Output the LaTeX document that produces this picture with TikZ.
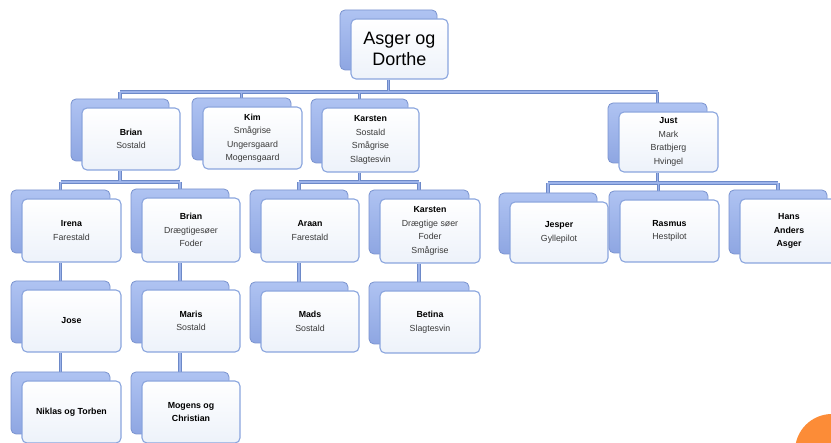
\documentclass[tikz,border=0pt]{standalone}
\usepackage{fontspec}
\setmainfont{Liberation Sans}
\usetikzlibrary{backgrounds}
\definecolor{backtop}{HTML}{AFC3F2}
\definecolor{backbot}{HTML}{8EA6E2}
\definecolor{backline}{HTML}{7A93CF}
\definecolor{frontline}{HTML}{8AA5DE}
\definecolor{frontbot}{HTML}{EDF2FA}
\definecolor{connout}{HTML}{6D89C8}
\definecolor{connin}{HTML}{9CB3EA}
\definecolor{subtext}{HTML}{3A3A3A}
\definecolor{dotorange}{HTML}{FC8C37}
\tikzset{
  backbox/.style={rectangle, rounded corners=5pt, draw=backline, line width=0.8pt,
    top color=backtop, bottom color=backbot, inner sep=0pt},
  frontbox/.style={rectangle, rounded corners=5pt, draw=frontline, line width=1.1pt,
    top color=white, bottom color=frontbot, inner sep=0pt, align=center,
    font=\fontsize{8.8}{13.5}\selectfont, text=subtext},
  rootfont/.style={font=\fontsize{18}{20.5}\selectfont, text=black},
  connouter/.style={draw=connout, line width=3.4pt},
  conninner/.style={draw=connin, line width=1.6pt}
}
% name, x1, y1, x2, y2, extra style, text
\newcommand\orgbox[7]{%
  \node[backbox, minimum width={#4-#2}, minimum height={#5-#3}]
    (#1back) at ({(#2+#4)/2-11},{(#3+#5)/2-9}) {};
  \node[frontbox, minimum width={#4-#2}, minimum height={#5-#3}, #6]
    (#1) at ({(#2+#4)/2},{(#3+#5)/2}) {#7};
}
\newcommand\nm[1]{\textcolor{black}{\textbf{#1}}}
% all connectors, drawn with the style given
\newcommand\connset[1]{%
  % root -> level 1
  \draw[#1] (rootback.south |- root.south) -- (rootback.south |- bar0);
  \draw[#1] (brianback.north |- bar0) -- (justback.north |- bar0);
  \foreach \c in {brian,kim,karsten,just}
    \draw[#1] (\c back.north |- bar0) -- (\c back.north);
  % Brian -> Irena, Brian
  \draw[#1] (brianback.south |- brian.south) -- (brianback.south |- bar1);
  \draw[#1] (irenaback.north |- bar1) -- (briantwoback.north |- bar1);
  \foreach \c in {irena,briantwo}
    \draw[#1] (\c back.north |- bar1) -- (\c back.north);
  % Karsten -> Araan, Karsten
  \draw[#1] (karstenback.south |- karsten.south) -- (karstenback.south |- bar2);
  \draw[#1] (araanback.north |- bar2) -- (karstentwoback.north |- bar2);
  \foreach \c in {araan,karstentwo}
    \draw[#1] (\c back.north |- bar2) -- (\c back.north);
  % Just -> Jesper, Rasmus, Hans
  \draw[#1] (justback.south |- just.south) -- (justback.south |- bar3);
  \draw[#1] (jesperback.north |- bar3) -- (hansback.north |- bar3);
  \foreach \c in {jesper,rasmus,hans}
    \draw[#1] (\c back.north |- bar3) -- (\c back.north);
  % single chains
  \draw[#1] (joseback.north |- irena.south) -- (joseback.north);
  \draw[#1] (niklasback.north |- jose.south) -- (niklasback.north);
  \draw[#1] (marisback.north |- briantwo.south) -- (marisback.north);
  \draw[#1] (mogensback.north |- maris.south) -- (mogensback.north);
  \draw[#1] (madsback.north |- araan.south) -- (madsback.north);
  \draw[#1] (betinaback.north |- karstentwo.south) -- (betinaback.north);
}
\begin{document}
\begin{tikzpicture}[x=1pt,y=-1pt]
\useasboundingbox (0,0) rectangle (831,443);
% nodes
\orgbox{root}{351}{19}{448}{79}{rootfont}{Asger og\\Dorthe}
\orgbox{brian}{82}{108}{180}{170}{}{\nm{Brian}\\Sostald}
\orgbox{kim}{203}{107}{302}{169}{}{\nm{Kim}\\Smågrise\\Ungersgaard\\Mogensgaard}
\orgbox{karsten}{322}{108}{419}{172}{}{\nm{Karsten}\\Sostald\\Smågrise\\Slagtesvin}
\orgbox{just}{619}{112}{718}{172}{}{\nm{Just}\\Mark\\Bratbjerg\\Hvingel}
\orgbox{irena}{22}{199}{121}{262}{}{\nm{Irena}\\Farestald}
\orgbox{briantwo}{142}{198}{240}{262}{}{\nm{Brian}\\Drægtigesøer\\Foder}
\orgbox{araan}{261}{199}{359}{262}{}{\nm{Araan}\\Farestald}
\orgbox{karstentwo}{380}{199}{480}{263}{}{\nm{Karsten}\\Drægtige søer\\Foder\\Smågrise}
\orgbox{jesper}{510}{202}{608}{263}{}{\nm{Jesper}\\Gyllepilot}
\orgbox{rasmus}{620}{200}{719}{262}{}{\nm{Rasmus}\\Hestpilot}
\orgbox{hans}{740}{199}{838}{263}{}{\nm{Hans}\\\nm{Anders}\\\nm{Asger}}
\orgbox{jose}{22}{290}{121}{352}{}{\nm{Jose}}
\orgbox{maris}{142}{290}{240}{352}{}{\nm{Maris}\\Sostald}
\orgbox{mads}{261}{291}{359}{352}{}{\nm{Mads}\\Sostald}
\orgbox{betina}{380}{291}{480}{353}{}{\nm{Betina}\\Slagtesvin}
\orgbox{niklas}{22}{381}{121}{443}{}{\nm{Niklas og Torben}}
\orgbox{mogens}{142}{381}{240}{443}{}{\nm{Mogens og}\\\nm{Christian}}
% bar coordinates
\coordinate (bar0) at (0,92);
\coordinate (bar1) at (0,182);
\coordinate (bar2) at (0,182);
\coordinate (bar3) at (0,183);
\begin{pgfonlayer}{background}
  \fill[white] (0,0) rectangle (831,443);
  \connset{connouter}
  \connset{conninner}
\end{pgfonlayer}
% orange dot
\fill[dotorange] (832,451) circle (37);
\end{tikzpicture}
\end{document}
